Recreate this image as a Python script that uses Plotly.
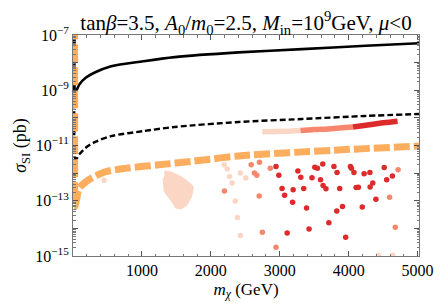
import plotly.graph_objects as go

# ---- data (mass in GeV, log10 sigma_SI in pb) ----
solid_vert_m = [20, 20]
solid_vert_lg = [-6.5, -9.0]
solid_m = [20, 36, 92, 184, 323, 554, 1015, 1476, 2400, 3324, 4246, 5020]
solid_lg = [-9.0, -9.06, -8.79, -8.55, -8.35, -8.13, -7.95, -7.80, -7.63, -7.51, -7.39, -7.30]

dash_vert_m = [18, 18]
dash_vert_lg = [-6.5, -11.4]
dash_m = [18, 45, 92, 184, 323, 554, 1015, 1476, 2400, 3324, 4246, 5020]
dash_lg = [-11.4, -11.5, -11.32, -11.08, -10.87, -10.66, -10.48, -10.33, -10.15, -10.04, -9.93, -9.86]

orange_vert_m = [24, 24]
orange_vert_lg = [-6.5, -13.2]
orange_m = [24, 30, 60, 92, 230, 461, 784, 1246, 1708, 2400, 3786, 5020]
orange_lg = [-13.2, -13.2, -12.85, -12.54, -12.24, -11.96, -11.82, -11.70, -11.58, -11.38, -11.17, -11.02]

blob_m = [1328, 1431, 1570, 1685, 1731, 1708, 1639, 1570, 1500, 1431, 1338, 1320]
blob_lg = [-11.96, -12.0, -12.18, -12.39, -12.54, -12.83, -13.13, -13.25, -13.23, -12.95, -12.65, -12.18]

band_pale_m = [2747, 2950, 3150, 3301]
band_pale_lg = [-10.50, -10.49, -10.48, -10.46]
band_salmon_m = [3301, 3500, 3700, 3900, 4063]
band_salmon_lg = [-10.46, -10.42, -10.40, -10.36, -10.33]
band_red_m = [4063, 4300, 4500, 4709]
band_red_lg = [-10.33, -10.25, -10.18, -10.12]

pale_m = [452, 2192, 2238, 2271, 2308, 2354, 2386, 2428, 2428, 2507, 4432, 4640]
pale_lg = [-12.26, -11.70, -11.85, -12.12, -12.36, -13.01, -13.61, -14.26, -12.00, -12.18, -14.97, -14.97]

salmon_m = [1698, 2197, 2585, 2632, 2667, 2705, 2862, 2701, 2747, 2945, 4717, 4593, 4676]
salmon_lg = [-12.51, -12.65, -11.70, -12.0, -12.08, -11.61, -11.82, -12.83, -14.14, -14.68, -11.88, -12.87, -13.96]

red_m = [2945, 2986, 3033, 3070, 3107, 3186, 3194, 3263, 3305, 3347, 3388, 3425, 3467, 3508,
         3546, 3591, 3624, 3628, 3670, 3712, 3786, 3831, 3827, 3869, 3910, 3956, 4025, 4039,
         4076, 4108, 4141, 4197, 4224, 4307, 4311, 4349, 4395, 4515, 4551, 4634]
red_lg = [-11.76, -12.08, -12.56, -12.80, -14.17, -13.05, -12.60, -11.92, -12.15, -12.56, -13.26, -14.02, -12.17, -11.79,
          -11.82, -12.24, -11.67, -12.45, -12.57, -13.80, -11.76, -11.98, -13.37, -12.56, -13.21, -14.32, -11.76, -11.82,
          -11.98, -12.52, -12.51, -13.23, -12.02, -11.98, -12.50, -12.36, -12.95, -11.80, -12.24, -12.10]

y_exps = [-15, -14, -13, -12, -11, -10, -9, -8, -7]
x_ticks = [1000, 2000, 3000, 4000, 5000]

PALE = "#FCD6C5"
SALMON = "#F6876E"
RED = "#DD2A2A"
ORANGE = "#FDAD5E"


def p(v):
    return [10 ** e for e in v]


fig = go.Figure()

for mm, lg, c in [(pale_m, pale_lg, PALE), (salmon_m, salmon_lg, SALMON), (red_m, red_lg, RED)]:
    fig.add_trace(go.Scatter(x=mm, y=p(lg), mode="markers",
                             marker=dict(size=5.5, color=c, line=dict(width=0))))

fig.add_trace(go.Scatter(x=blob_m, y=p(blob_lg), mode="lines", fill="toself",
                         fillcolor=PALE, line=dict(color=PALE, width=3)))

for mm, lg, c in [(band_pale_m, band_pale_lg, PALE), (band_salmon_m, band_salmon_lg, SALMON),
                  (band_red_m, band_red_lg, RED)]:
    fig.add_trace(go.Scatter(x=mm, y=p(lg), mode="lines", line=dict(color=c, width=5.5, shape="spline")))

fig.add_trace(go.Scatter(x=solid_vert_m, y=p(solid_vert_lg), mode="lines",
                         line=dict(color="black", width=2.6)))
fig.add_trace(go.Scatter(x=solid_m, y=p(solid_lg), mode="lines",
                         line=dict(color="black", width=2.6, shape="spline", smoothing=0.8)))
fig.add_trace(go.Scatter(x=dash_vert_m, y=p(dash_vert_lg), mode="lines",
                         line=dict(color="black", width=2.4, dash="6px,3px")))
fig.add_trace(go.Scatter(x=dash_m, y=p(dash_lg), mode="lines",
                         line=dict(color="black", width=2.4, dash="6px,3px", shape="spline", smoothing=0.8)))
fig.add_trace(go.Scatter(x=orange_vert_m, y=p(orange_vert_lg), mode="lines",
                         line=dict(color=ORANGE, width=7, dash="18px,5px")))
fig.add_trace(go.Scatter(x=orange_m, y=p(orange_lg), mode="lines",
                         line=dict(color=ORANGE, width=7, dash="16px,4px", shape="spline", smoothing=0.8)))

ytext = []
for e in y_exps:
    ytext.append("10<sup>\u2212%d</sup>" % (-e) if e % 2 else "")

minor_y = [k * 10 ** e for e in range(-15, -7) for k in range(2, 10)]

# the page body keeps its default 8px margin, so the figure is sized/margined to compensate
fig.update_layout(
    width=438, height=299,
    margin=dict(l=59, r=17, t=27, b=40),
    paper_bgcolor="white", plot_bgcolor="white",
    showlegend=False,
    font=dict(family="Liberation Serif", size=16, color="black"),
    title=dict(text="tan<i>\u03b2</i>=3.5, <i>A</i><sub>0</sub>/<i>m</i><sub>0</sub>=2.5, "
                    "<i>M</i><sub>in</sub>=10<sup>9</sup>GeV, <i>\u03bc</i><0",
               x=0.5, xref="paper", y=0.975, yref="container", xanchor="center", yanchor="top",
               font=dict(size=21)),
    xaxis=dict(range=[0, 5020], tickvals=x_ticks, ticks="inside", ticklen=5, tickcolor="#555",
               showline=True, linecolor="#777", linewidth=1, mirror="allticks", showgrid=False,
               zeroline=False, tickfont=dict(size=16),
               minor=dict(dtick=200, tick0=0, ticks="inside", ticklen=2.5, tickcolor="#777"),
               title=dict(text="<i>m</i><sub><i>\u03c7</i></sub> (GeV)", font=dict(size=17), standoff=4)),
    yaxis=dict(type="log", range=[-15, -7], tickvals=[10 ** e for e in y_exps], ticktext=ytext,
               ticks="inside", ticklen=5, tickcolor="#555",
               showline=True, linecolor="#777", linewidth=1, mirror="allticks", showgrid=False,
               zeroline=False, tickfont=dict(size=16),
               minor=dict(tickvals=minor_y, ticks="inside", ticklen=2.5, tickcolor="#777"),
               title=dict(text="<i>\u03c3</i><sub>SI</sub> (pb)", font=dict(size=18), standoff=3)),
)

fig.write_html("out.html")
